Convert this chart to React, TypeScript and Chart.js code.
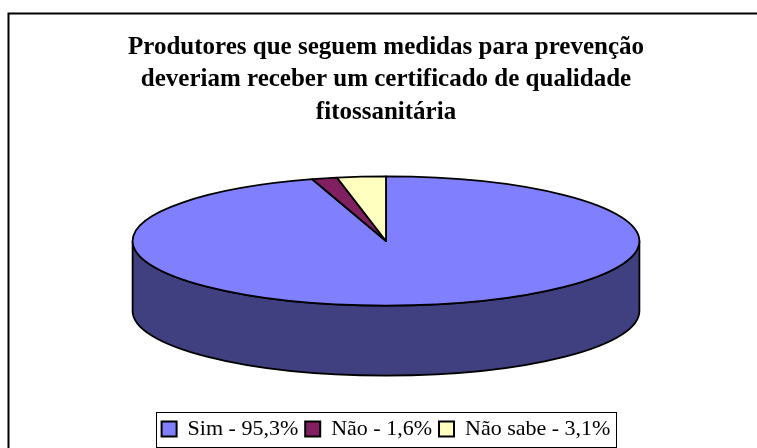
import React, { useEffect, useRef } from 'react';
import { Chart, registerables } from 'chart.js';

Chart.register(...registerables);

const TITLE_LINES = [
  'Produtores que seguem medidas para prevenção',
  'deveriam receber um certificado de qualidade',
  'fitossanitária',
];
const CATEGORIES = ['Sim', 'Não', 'Não sabe'];
const VALUES = [95.3, 1.6, 3.1];
const TOP_COLORS = ['#8080FF', '#802060', '#FFFFC0'];
const SIDE_COLORS = ['#404080', '#401030', '#808060'];

const SERIF = "'Times New Roman', 'Liberation Serif', serif";
const PIE_WIDTH_FRAC = 0.683; // pie width relative to chart area width
const TILT = 0.255; // vertical squash of the top face
const DEPTH = 0.276; // thickness relative to horizontal radius

const fmt = (v: number) => v.toFixed(1).replace('.', ',');

const framePlugin = {
  id: 'frame',
  beforeDraw(chart: any) {
    const ctx = chart.ctx;
    ctx.save();
    ctx.fillStyle = '#ffffff';
    ctx.fillRect(0, 0, chart.width, chart.height);
    ctx.strokeStyle = '#000000';
    ctx.lineWidth = 2;
    ctx.strokeRect(8.5, 13.5, chart.width + 40, chart.height + 40);
    ctx.restore();
  },
};

const pie3dPlugin = {
  id: 'pie3d',
  beforeDatasetsDraw(chart: any) {
    const meta = chart.getDatasetMeta(0);
    const arcs = meta.data as any[];
    if (!arcs.length) return false;
    const ctx: CanvasRenderingContext2D = chart.ctx;
    const ca = chart.chartArea;
    const { x: ox, y: oy, outerRadius: R } = arcs[0].getProps(['x', 'y', 'outerRadius'], true);
    const rx = ((ca.right - ca.left) * PIE_WIDTH_FRAC) / 2;
    const ry = rx * TILT;
    const depth = rx * DEPTH;
    const cx = (ca.left + ca.right) / 2;
    const cy = (ca.top + ca.bottom) / 2 - depth / 2;
    const sx = rx / R;
    const sy = ry / R;
    ctx.save();
    const base = ctx.getTransform();
    const setT = (dy: number) => {
      ctx.setTransform(base);
      ctx.translate(cx, cy + dy);
      ctx.scale(sx, sy);
      ctx.translate(-ox, -oy);
    };
    ctx.lineJoin = 'round';
    // side walls (front half only)
    arcs.forEach((arc, i) => {
      const { startAngle: s, endAngle: e } = arc.getProps(['startAngle', 'endAngle'], true);
      const a1 = Math.max(s, 0);
      const a2 = Math.min(e, Math.PI);
      if (a2 <= a1) return;
      ctx.beginPath();
      setT(0);
      ctx.arc(ox, oy, R, a1, a2);
      setT(depth);
      ctx.arc(ox, oy, R, a2, a1, true);
      ctx.closePath();
      ctx.setTransform(base);
      ctx.fillStyle = SIDE_COLORS[i];
      ctx.fill();
      ctx.strokeStyle = '#000000';
      ctx.lineWidth = 1.8;
      ctx.stroke();
    });
    // top faces
    arcs.forEach((arc) => {
      const { startAngle: s, endAngle: e } = arc.getProps(['startAngle', 'endAngle'], true);
      ctx.beginPath();
      setT(0);
      ctx.moveTo(ox, oy);
      ctx.arc(ox, oy, R, s, e);
      ctx.closePath();
      ctx.setTransform(base);
      ctx.fillStyle = arc.options.backgroundColor;
      ctx.fill();
      ctx.strokeStyle = '#000000';
      ctx.lineWidth = 1.8;
      ctx.stroke();
    });
    ctx.restore();
    return false;
  },
};

const legendBoxPlugin = {
  id: 'legendBox',
  afterDraw(chart: any) {
    const lg = chart.legend;
    if (!lg || !lg.legendHitBoxes || !lg.legendHitBoxes.length) return;
    const hb = lg.legendHitBoxes;
    let l = Infinity, r = -Infinity, t = Infinity, b = -Infinity;
    hb.forEach((h: any) => {
      l = Math.min(l, h.left);
      r = Math.max(r, h.left + h.width);
      t = Math.min(t, h.top);
      b = Math.max(b, h.top + h.height);
    });
    const ctx = chart.ctx;
    ctx.save();
    ctx.strokeStyle = '#000000';
    ctx.lineWidth = 1;
    ctx.strokeRect(Math.round(l - 6) + 0.5, Math.round(t - 6) + 0.5, Math.round(r - l + 11), Math.round(b - t + 13));
    ctx.restore();
  },
};

export default function App() {
  const ref = useRef<HTMLCanvasElement | null>(null);
  useEffect(() => {
    if (!ref.current) return;
    const chart = new Chart(ref.current, {
      type: 'pie',
      data: {
        labels: CATEGORIES,
        datasets: [
          {
            data: VALUES,
            backgroundColor: TOP_COLORS,
            borderColor: '#000000',
            borderWidth: 0,
          },
        ],
      },
      options: {
        responsive: false,
        animation: false,
        events: [],
        layout: { padding: { top: 20, left: 15, right: 0, bottom: 10 } },
        plugins: {
          tooltip: { enabled: false },
          title: {
            display: true,
            text: TITLE_LINES,
            color: '#000000',
            font: { family: SERIF, size: 25, weight: 'bold', lineHeight: 1.3 },
            padding: { top: 11, bottom: 12.5 },
          },
          legend: {
            display: true,
            position: 'bottom',
            onClick: () => {},
            labels: {
              color: '#000000',
              font: { family: SERIF, size: 22 },
              boxWidth: 15,
              boxHeight: 15,
              padding: 7,
              generateLabels: () =>
                CATEGORIES.map((c, i) => ({
                  text: `${c} - ${fmt(VALUES[i])}%`,
                  fillStyle: TOP_COLORS[i],
                  strokeStyle: '#000000',
                  lineWidth: 2,
                  hidden: false,
                  index: i,
                  fontColor: '#000000',
                })),
            },
          },
        },
      },
      plugins: [framePlugin, pie3dPlugin, legendBoxPlugin],
    } as any);
    return () => chart.destroy();
  }, []);
  return (
    <div style={{ position: 'absolute', left: 0, top: 0, width: 757, height: 448, overflow: 'hidden', background: '#fff' }}>
      <canvas ref={ref} width={757} height={460} style={{ display: 'block' }} />
    </div>
  );
}
